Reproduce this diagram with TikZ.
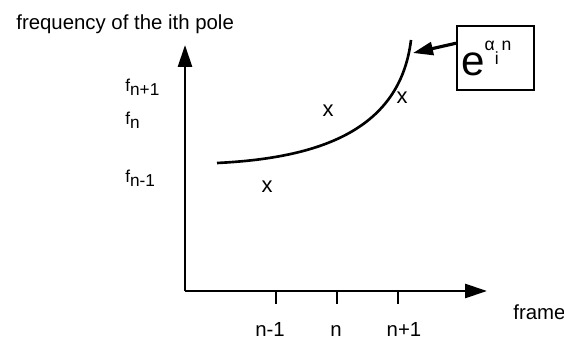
\documentclass[tikz,border=0pt]{standalone}
\usepackage{fontspec}
\setmainfont{Liberation Sans}
\usetikzlibrary{arrows.meta, positioning}

\begin{document}
\begin{tikzpicture}[
    x=0.02cm, y=-0.02cm,
    axis/.style={line width=1.6pt, -{Triangle[length=0.44cm, width=0.28cm]}},
    tickmark/.style={line width=1.6pt},
    polecurve/.style={line width=1.5pt},
    pointer/.style={line width=1.8pt, -{Triangle[length=0.4cm, width=0.26cm]}},
    axlabel/.style={font=\fontsize{11.6}{14}\selectfont, inner sep=0pt},
    flabel/.style={font=\fontsize{9.8}{11}\selectfont, inner sep=0pt, anchor=base west},
    cross/.style={font=\fontsize{12.5}{14}\selectfont, inner sep=0pt},
    expbox/.style={draw, line width=1.4pt, inner xsep=0.08cm, inner ysep=0pt,
                   text width=1.38cm, minimum height=1.28cm, align=left}
]
\useasboundingbox (0,0) rectangle (564,340);

\coordinate (origin) at (185,291);
\coordinate (ytop) at (185,45);
\coordinate (xend) at (487,291);

\draw[axis] (origin) -- (ytop);
\draw[axis] (origin) -- (xend);

\node[axlabel, anchor=base west] (ytitle) at (16,30) {frequency of the ith pole};
\node[axlabel, anchor=base west] (xtitle) at (513,320) {frame};

\node[flabel] (fnext) at (125,92) {f\raisebox{-2pt}{n+1}};
\node[flabel] (fcur) at (125,125) {f\raisebox{-2pt}{n}};
\node[flabel] (fprev) at (125,183) {f\raisebox{-2pt}{n-1}};

\foreach \x/\lx/\lab/\nm in {276/270/n-1/prev, 337/336/n/cur, 398/404/n+1/next} {
    \coordinate (tick\nm) at (\x,291);
    \coordinate (tickend\nm) at (\x,304);
    \draw[tickmark] (tick\nm) -- (tickend\nm);
    \node[axlabel, anchor=base] (tlab\nm) at (\lx,337) {\lab};
}

\node[cross] (xprev) at (267,187) {x};
\node[cross] (xcur) at (328,111) {x};
\node[cross] (xnext) at (402,98) {x};

\coordinate (cstart) at (217,163);
\coordinate (cend) at (411,40);
\coordinate (hit) at (413,53);
\draw[polecurve] (cstart) .. controls (320,158) and (400,130) .. (cend);

\node[expbox, anchor=north west] (exp) at (456,25)
    {{\fontsize{24}{24}\selectfont e}\raisebox{14pt}{\fontsize{10}{10}\selectfont α\raisebox{-8pt}{i}\,n}};

\draw[pointer] ([yshift=0.3cm]exp.west) -- (hit);

\end{tikzpicture}
\end{document}
